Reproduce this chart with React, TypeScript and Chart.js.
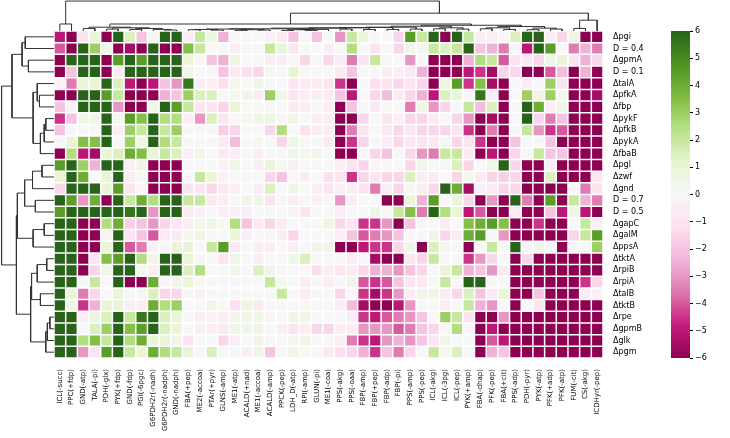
import React, { useEffect, useRef } from "react";
import { Chart, registerables } from "chart.js";
Chart.register(...registerables);

const FONT = "'DejaVu Sans', sans-serif";

const columnLabels = [
  "ICL(-succ)", "PPC(+fdp)", "GND(-atp)", "TALA(-pi)", "PDH(-glx)", "PYK(+fdp)", "GND(-fdp)", "PGI(-6pgc)",
  "G6PDH2r(-nadh)", "G6PDH2r(-nadph)", "GND(-nadph)", "FBA(+pep)", "ME2(-accoa)", "PTAr(+pyr)", "GLNS(-amp)",
  "ME1(-atp)", "ACALD(+nad)", "ME1(-accoa)", "ACALD(-amp)", "PPCK(-pep)", "LDH_D(-atp)", "RPI(-amp)", "GLUN(-pi)",
  "ME1(-coa)", "PPS(-akg)", "PPS(-oaa)", "FBP(-amp)", "FBP(+pep)", "FBP(-adp)", "FBP(-pi)", "PPS(-amp)", "PPS(-pep)",
  "ICL(-akg)", "ICL(-3pg)", "ICL(-pep)", "PYK(+amp)", "FBA(-dhap)", "PFK(-pep)", "FBA(+cit)", "PPS(-adp)",
  "PDH(-pyr)", "PYK(-atp)", "PFK(+adp)", "PFK(-atp)", "FUM(-cit)", "CS(-akg)", "ICDHyr(-pep)",
];

const rowLabels = [
  "Δpgi", "D = 0.4", "ΔgpmA", "D = 0.1", "ΔtalA", "ΔpfkA", "Δfbp", "ΔpykF", "ΔpfkB", "ΔpykA", "ΔfbaB",
  "Δpgl", "Δzwf", "Δgnd", "D = 0.7", "D = 0.5", "ΔgapC", "ΔgalM", "ΔppsA", "ΔtktA", "ΔrpiB", "ΔrpiA",
  "ΔtalB", "ΔtktB", "Δrpe", "ΔgpmB", "Δglk", "Δpgm",
];

const vPgi = [-5, -6, -1, 1, -6, 6, 1.5, -2, 0.3, 6, 6, -0.5, 2, 0.7, -2.5, 0, 0, 0, -0.3, -0.7, -2, 0, -2, 0, -3, 2, 1, 0, 0, -1.5, 4.5, 2, 6, -6, 6, 2, -0.5, -0.5, 0, 1.5, 6, 6, -0.5, -1.5, 0.5, -6, -6];
const vD04 = [-4, -6, 6, 3, 0.5, -6, -5.5, -6, 6, -6, -6, 3.5, 2, 0, 0, -0.5, 0, 0, 2, 1, -1, 0, 0, -0.5, 0, 2.5, 0, -1, 0, -1.5, 0.5, 0.2, 2, 1.5, 2, 6, -2, -2.5, -3.5, 0, -5, 6, 4.5, 0, -3.5, -2.5, -3.5];
const vGpmA = [-6, 6, 6, 6, -6, 4.5, 6, 4.5, 6, 6, 6, 1, 0, -2, -2.5, 0.7, 0, 0, -0.5, -0.5, 0, -1.5, 0, -1.5, -0.7, -3.5, -1, 2, 0, 0, -3, 0, -6, -6, -6, -2.5, 2.5, 2, -4, -1, -0.7, -1.5, 0.5, 1, -1, -2.5, -1.5];
const vD01 = [-6, -2, 6, 6, -6, -0.5, 6, 6, 6, 6, 6, 0.5, 0, 0, -2, -0.7, -1.2, -1.5, 0.2, 0, 1.2, 0, 0, 0, -0.7, -2, 0, 0, -0.5, -0.5, -0.7, -2.5, -6, -6, -6, -5, -4.5, -5.5, -1.5, -1.5, -6, -6, -4, -2.2, -6, -2.5, -6];
const vTalA = [-0.3, -3.5, 1, 1, 6, 1.5, -5, -6, -5, -2, -3, 5.5, -0.5, -0.5, -1.2, 0.3, 0, 0.5, 0, 0, -1, -0.7, -0.7, -1, -4.5, -6, 0, -1.2, -1, -1.5, -1, -1.5, -6, 0.7, 4.5, -4.5, 3.5, -5.5, -6, 0, -0.5, 0, 3, -1, -6, -6, -6];
const vPfkA = [-6, -6, 6, 6, 4.5, 2, -6, -6, -6, -2.5, -2, 3, 1.5, 1.5, 0, 0.2, 0.5, -0.5, 3, 0.5, -1, -0.5, -0.5, -0.7, -2, -5, 0, -1.5, -2.2, -0.7, -1.5, -2.5, -5, 1.5, 1, 0, 5.5, -0.5, -6, 0, 3, 0.5, 3, 0.3, -6, -6, -5.5];
const vFbp = [-2, -0.3, 6, 6, 6, -3, -6, -6, 0.5, 6, 4.5, 2, -1, -1, -1.5, 1, 0, 0, 0, 0, -0.7, -0.5, 0, -0.5, -6, -2, 0, -0.7, 0, 0, -3.5, 0.5, -3, -1.5, 0, 2, -2.2, 1.5, -6, 0, 6, 4, -0.5, 0.5, -6, -6, -6];
const vPykF = [-4.5, -2, 0.5, 0.5, 6, 0.3, 4.5, 3.5, 6, 2.5, 2.5, -0.5, -3, 1.5, -1, 0, 0.2, 0.5, 0.7, 0, 0.5, 0, -0.5, -0.5, -6, -6, -1.5, 0, -1, -0.5, -1.5, -1.5, -0.7, 0, -1.5, -3, -6, -5.5, -6, 0, 6, -1.5, -3.5, -2, -6, -6, -6];
const vPfkB = [-2, 0, 0, 0, 6, -0.5, 3, 2, 6, 2, 3, 0, 0, 0, -1.7, -1.5, 0, 0, -1.5, 2.5, 0, -1.2, -0.5, -0.5, -6, -3.5, -1, 0, -0.7, -1.5, -1, -1.5, -1.5, -1.5, -1, -4.5, -6, -3.5, -6, 0, 2, -3, -4.5, -4, -6, -6, -6];
const vPykA = [0, 1, 3.5, 3.5, 6, 0, 3, 0.5, 6, 2.5, 2, 0, 0, 0, -0.7, -2.2, 0, 0.3, 0, -1.5, 0.5, 0, 0, -0.7, -6, -4.5, -1.5, 0, -0.5, -1.5, -1, -1, -0.7, 0.3, -1.5, -1, -4.5, -6, -6, -2, 0, 0, -2, -6, -6, -6, -6];
const vFbaB = [-6, 2.5, -5, -5.5, 1, 1.5, 4, 3.5, 1, 2, 1.5, -0.5, 0.5, 0, -0.7, -0.5, 0, -0.5, 0, 0, 0.5, 0.3, 0.5, 0, -6, -6, 0, -1.5, -2, 0, -1.5, -3, -3.5, 2, 2, -0.7, -6, -5, -6, -1.5, 0, 2, -2, -2, -6, -6, -6];
const vPgl = [4.5, 6, 3, -2.5, 6, 6, -0.5, 0.5, -6, -6, -6, 0, 0, 0, -0.3, 0.5, 0, -0.5, 1, 0.3, -0.5, 0, 0, 0, -0.5, -1, -1.5, 0, 0, 0, -1.5, 0.5, 0, 0, 1.5, -1.5, 0, 0.5, 6, -1.5, -6, -6, -0.5, -6, -6, -6, -6];
const vZwf = [1, 6, 4, 0, 1, 6, -0.5, 0, -6, -6, -6, 0, 2, 1, -0.3, 0, 0, 0, -1.5, -2, 0, -0.5, 0, -1.2, -1, -4.5, -1.5, -1, -1.5, -1.5, 1.5, -0.5, -0.7, 0, -1.5, 0.3, -0.7, -1.5, -1.7, -1.5, -6, -6, 1.5, -6, -6, -6, -1];
const vGnd = [-1.5, 6, 6, 6, 1, 4.5, -1, 0, -6, -6, -6, -1, -1, -1.5, -0.7, -0.5, 0, -0.5, 1.5, 0, 0.5, 0, -0.5, -1, -0.5, -0.5, -1, -3.5, -0.5, -1.5, 0, -0.5, -1.5, 6, 4, -5.5, -0.5, -0.7, -1.5, -1.5, -6, -6, -6, -6, 0, -3.5, -1];
const vD07 = [6, 4.5, -3, 4, -6, 6, 2, 4, 2.5, 6, 6, 2, 2, -0.7, -0.5, 0, 0.5, 0.5, -1, 0, -0.5, 0, -0.3, 0, -3, -0.5, 0, 0, -6, -6, 1, -2.5, 4.5, 0, 1, -1.5, -6, -3, -6, 6, -3.5, -6, 4.5, -6, 2, -2.5, -3.5];
const vD05 = [4.5, 6, 6, 6, 6, 6, 5.5, 6, -3, 6, 6, -0.7, -0.3, 0, -0.5, -0.5, -0.5, 0, 0, 0, -0.3, -1, 0, 0, -0.5, 0, 0, 0.5, 0, 2, 3.5, -3.5, 6, 2.5, 1, -5, -4, -6, -6, -0.7, -6, -6, -2, -5, 0.5, -5, -6];
const vGapC = [6, 6, -6, -6, 2.5, 4, -1.7, -2, -3, -1.5, -1, -0.5, 0.5, 0.5, 0, 2.5, -2, -0.7, -1.5, -0.7, 0, 0, 0, 0.5, -1.5, -1, -4.5, -4.5, -3, -6, -2, 0, 0, -0.5, 0, 3.5, 4, 4.5, 3.5, -6, -6, -4.5, -6, -6, 0, 2, -0.5];
const vGalM = [6, 6, -6, -6, -0.3, 6, -1, -2, -4, -0.7, -0.7, 0.3, 0.5, 0, 0, 1, -0.5, 0, 0, -0.5, -1.5, 0, 0, 0, -0.5, -2, -4, -3.5, -3, -2, 0, 0, 0.5, -1.5, -0.5, 4, 4.5, 0, -3, -6, -6, -6, -6, -6, -1.5, 2, 4.5];
const vPpsA = [6, 6, -6, -6, 1, 6, -4, -3.5, -0.3, 0, 1, 1, 0, 2, 4.5, -0.7, 0, -0.5, -0.5, 0, -0.5, 0, 0.5, 0.5, -6, -6, -5, -4.5, -4.5, -1.5, 0.5, -6, 1.5, 0.3, 0, -6, 0, 2, 0, 6, -0.3, 0.5, 0, -6, 0, 0, 3];
const vTktA = [6, 6, -6, -1, 3.5, 4.5, 6, 2.5, 0.5, 6, 6, 1, 0.2, 0, -1, 0.5, 0, -0.5, 0, 0, 0.5, 1.5, 0, 0, 0, -0.5, 0, -5.5, -6, -6, -1, -1.5, 2, 0, 0, -4.5, -3, -1.5, 0, -6, -1.5, -6, -6, -6, -6, -6, -6];
const vRpiB = [6, 6, -6, -1.5, 0.5, 6, 6, 0.2, -0.5, 6, 6, 1.5, 2.5, 0, 0, 0.5, 0, 1.5, 0.5, 0, 0, 0, -1.2, -0.5, -1, -0.7, -1.5, -2.5, -2.5, -3, -2, -1.5, 0, 1, 2, -2.5, -2, -3, -0.7, -6, -6, -6, -6, -6, -6, -6, -6];
const vRpiA = [6, 6, 0, 2, 0, 6, -6, -6, 4, 0, 0.5, 1, 0, 0, 0, 0, 0, 0, 2, 0.3, 0, -0.5, 0, -0.5, 0, 0.5, -4, -4.5, -4, -2, -1, -0.7, 0, 2, 0, 6, 6, 0, 0, -6, -6, -6, -6, -6, -6, -4.5, -1.5];
const vTalB = [6, 1, -3.5, -1.5, 0, 1, 0, 0.3, 1.5, -1.5, -1.5, 0, -0.5, 0, 0, 0, 0, 0, 0, 2, 0, -0.7, 0, 0, -1.5, 0, -4.5, -5.5, -4.5, -3, -0.5, 0.5, 0.5, -0.5, -1.5, 1.5, -2, -0.7, 1, -6, -6, -2, -6, -6, -6, -0.7, -0.3];
const vTktB = [6, 0.5, -4.5, -2.5, 1, 1, -0.5, -0.5, 4, 2.5, 3, 0, 0, 0.5, 0, -1.2, 0.7, -0.7, 0, 0, 0, 0, 0, 0, -0.5, -2.2, -5.5, -6, -6, -5, -3, 0, 0, -0.5, 0, 2, -2.5, -3, 0, -6, 0, -1, -6, -6, -6, -6, -6];
const vRpe = [6, 6, -0.5, 0.7, 1.5, 6, 2, 5.5, 6, 1.5, 1, 0, -0.5, -0.3, -0.5, 0.5, 0.5, 0.5, 0, 0, 0.5, 0.5, 0, 0, 0, -0.5, -4.5, -5, -4, -3.5, -3, -2, 0, 3, 2, -1, -6, -6, -3, -6, -6, -6, -6, -6, -6, -6, -6];
const vGpmB = [6, 6, 0, 1.5, 3, 6, 3.5, 4.5, 6, 1.5, 1, 0, -0.5, -0.5, -0.7, 0.5, 0.5, 0.5, 0, -0.5, -1, -0.5, -1.5, -1.5, -0.5, -0.5, -3, -3, -3, -4, -3.5, -2, -1.5, 0, 2.5, 0, -6, -5, -6, -6, -6, -6, -6, -6, -6, -6, -6];
const vGlk = [6, 6, 2.5, 3.5, 2, 6, 2.5, 4, 1, 1, 0.5, -1, 0, 0, -1.5, -0.5, 0, 0.5, 0, 0, 0.3, 0.5, 0, 0, -0.5, -3.5, -4.5, -5, -3, -2.5, -3, -2, -1, 0.5, 0, 0, -6, -4, -5, -6, -6, -6, -6, -6, -6, -6, -6];
const vPgm = [6, 6, -3, -1, 4.5, 6, 2, 1, 4, 2.5, 2, 1, 0, 1.5, 0, 0, -0.5, 0.5, -2, 0, 0.5, 0, 0, -0.7, -1.2, -1.5, -2.5, -4.5, -2, -3.5, -1.5, 0, 2, 0.3, 1.5, 0, -6, -2.5, -2, -6, -6, -6, -6, -6, -6, -6, -6];

const matrix = [vPgi, vD04, vGpmA, vD01, vTalA, vPfkA, vFbp, vPykF, vPfkB, vPykA, vFbaB, vPgl, vZwf, vGnd,
  vD07, vD05, vGapC, vGalM, vPpsA, vTktA, vRpiB, vRpiA, vTalB, vTktB, vRpe, vGpmB, vGlk, vPgm];

// dendrogram merges: [childA, childB, height]; ids >= nLeaves refer to earlier merges
const rowLinks: [number, number, number][] = [
  [0, 1, 91], [2, 3, 81], [28, 29, 101], [5, 6, 46], [4, 31, 53], [7, 8, 26], [33, 9, 31], [34, 10, 43],
  [32, 35, 66], [30, 36, 133], [11, 12, 38], [38, 13, 68], [14, 15, 59], [39, 40, 93], [16, 17, 31],
  [42, 18, 66], [41, 43, 116], [19, 20, 23], [45, 21, 53], [22, 23, 43], [46, 47, 71], [24, 25, 13],
  [49, 26, 21], [50, 27, 26], [48, 51, 74], [44, 52, 119], [37, 53, 166],
];
const colLinks: [number, number, number][] = [
  [0, 1, 22], [2, 3, 8], [4, 5, 6], [6, 7, 5], [9, 10, 3], [8, 51, 5], [50, 52, 8], [49, 53, 10],
  [48, 54, 12], [11, 12, 4], [13, 14, 3], [56, 57, 5], [15, 16, 2], [17, 18, 3], [59, 60, 4], [58, 61, 6],
  [19, 20, 2], [21, 22, 2], [63, 64, 4], [65, 23, 5], [62, 66, 7], [24, 25, 6], [67, 68, 9], [26, 27, 5],
  [69, 70, 10], [28, 29, 5], [71, 72, 11], [30, 31, 6], [73, 74, 12], [32, 33, 7], [34, 35, 6], [76, 77, 10],
  [75, 78, 15], [36, 37, 7], [38, 39, 5], [80, 81, 10], [40, 41, 4], [42, 43, 6], [83, 84, 9], [82, 85, 14],
  [79, 86, 18], [55, 87, 22], [44, 45, 8], [89, 46, 34], [88, 90, 56], [47, 91, 94],
];

const PIYG = ["#8e0152", "#c51b7d", "#de77ae", "#f1b6da", "#fde0ef", "#f7f7f7", "#e6f5d0", "#b8e186", "#7fbc41", "#4d9221", "#276419"];
const VMIN = -6, VMAX = 6;

function hex(c: string) { return [1, 3, 5].map((i) => parseInt(c.slice(i, i + 2), 16)); }
function cmap(v: number) {
  const t = ((Math.max(VMIN, Math.min(VMAX, v)) - VMIN) / (VMAX - VMIN)) * 10;
  const i = Math.min(9, Math.floor(t));
  const f = t - i;
  const a = hex(PIYG[i]), b = hex(PIYG[i + 1]);
  const m = a.map((x, k) => Math.round(x + (b[k] - x) * f));
  return `rgb(${m[0]},${m[1]},${m[2]})`;
}

function dendroSegments(n: number, links: [number, number, number][]) {
  const pos: number[] = [], ht: number[] = [];
  for (let i = 0; i < n; i++) { pos[i] = i + 0.5; ht[i] = 0; }
  const segs: { p: number; h: number }[][] = [];
  links.forEach(([a, b, h], k) => {
    const id = n + k;
    pos[id] = (pos[a] + pos[b]) / 2; ht[id] = h;
    segs.push([{ p: pos[a], h: ht[a] }, { p: pos[a], h }, { p: pos[b], h }, { p: pos[b], h: ht[b] }]);
  });
  return segs;
}

// layout (pixels)
const W = 730, H = 438;
const HM_L = 54, HM_R = 603, HM_T = 31, HM_B = 358;
const CB_L = 671, CB_R = 690, CB_CANVAS = 660;

export default function App() {
  const heatRef = useRef<HTMLCanvasElement>(null);
  const topRef = useRef<HTMLCanvasElement>(null);
  const leftRef = useRef<HTMLCanvasElement>(null);
  const cbRef = useRef<HTMLCanvasElement>(null);

  useEffect(() => {
    Chart.defaults.font.family = FONT;
    Chart.defaults.color = "#000";
    const charts: Chart[] = [];

    charts.push(new Chart(heatRef.current!, {
      type: "bar",
      data: {
        labels: columnLabels,
        datasets: rowLabels.map((name, r) => ({
          label: name,
          data: columnLabels.map(() => [r, r + 1] as [number, number]),
          backgroundColor: matrix[r].map(cmap),
          borderColor: "#ffffff",
          borderWidth: 0.75,
          borderSkipped: false,
          inflateAmount: 0,
          grouped: false,
          barPercentage: 1,
          categoryPercentage: 1,
        })),
      },
      options: {
        animation: false, responsive: false, devicePixelRatio: 1,
        layout: { padding: { left: HM_L, top: HM_T, right: 0, bottom: 0 } },
        plugins: { legend: { display: false }, tooltip: { enabled: false } },
        scales: {
          x: {
            type: "category",
            grid: { display: false }, border: { display: false },
            ticks: { autoSkip: false, maxRotation: 90, minRotation: 90, padding: 3, font: { size: 7 }, color: "#000" },
            afterFit: (s: any) => { s.height = H - HM_B; },
          },
          y: {
            type: "linear", position: "right", min: 0, max: rowLabels.length, reverse: true,
            grid: { display: false }, border: { display: false },
            afterBuildTicks: (s: any) => { s.ticks = rowLabels.map((_, i) => ({ value: i + 0.5 })); },
            ticks: { autoSkip: false, padding: 2, font: { size: 8 }, color: "#000",
              callback: (v: any) => rowLabels[Math.round(Number(v) - 0.5)] },
            afterFit: (s: any) => { s.width = W - HM_R; },
          },
        },
      },
    }));

    const line = { borderColor: "#333333", borderWidth: 1, pointRadius: 0, showLine: true, clip: false as any, tension: 0 };
    const colSegs = dendroSegments(columnLabels.length, colLinks);
    const colMax = Math.max(...colLinks.map((l) => l[2]));
    charts.push(new Chart(topRef.current!, {
      type: "scatter",
      data: { datasets: colSegs.map((s) => ({ ...line, data: s.map((q) => ({ x: q.p, y: q.h })) })) },
      options: {
        animation: false, responsive: false, devicePixelRatio: 1,
        plugins: { legend: { display: false }, tooltip: { enabled: false } },
        scales: {
          x: { type: "linear", display: false, min: 0, max: columnLabels.length },
          y: { type: "linear", display: false, min: 0, max: colMax * 1.035 },
        },
      },
    }));

    const rowSegs = dendroSegments(rowLabels.length, rowLinks);
    const rowMax = Math.max(...rowLinks.map((l) => l[2]));
    charts.push(new Chart(leftRef.current!, {
      type: "scatter",
      data: { datasets: rowSegs.map((s) => ({ ...line, data: s.map((q) => ({ x: q.h, y: q.p })) })) },
      options: {
        animation: false, responsive: false, devicePixelRatio: 1,
        plugins: { legend: { display: false }, tooltip: { enabled: false } },
        scales: {
          x: { type: "linear", display: false, min: 0, max: rowMax * 1.03, reverse: true },
          y: { type: "linear", display: false, min: 0, max: rowLabels.length, reverse: true },
        },
      },
    }));

    charts.push(new Chart(cbRef.current!, {
      type: "bar",
      data: {
        labels: ["cb"],
        datasets: [{
          data: [[VMIN, VMAX] as [number, number]],
          backgroundColor: (ctx: any) => {
            const ch = ctx.chart;
            const ys = ch.scales.y;
            if (!ch.chartArea || !ys) return "#f7f7f7";
            const g = ch.ctx.createLinearGradient(0, ys.getPixelForValue(VMIN), 0, ys.getPixelForValue(VMAX));
            PIYG.forEach((c, i) => g.addColorStop(i / 10, c));
            return g;
          },
          borderWidth: 0, barPercentage: 1, categoryPercentage: 1, inflateAmount: 0,
        }],
      },
      options: {
        animation: false, responsive: false, devicePixelRatio: 1,
        layout: { padding: { left: CB_L - CB_CANVAS, top: HM_T, right: 0, bottom: H - HM_B } },
        plugins: { legend: { display: false }, tooltip: { enabled: false } },
        scales: {
          x: { display: false },
          y: {
            type: "linear", position: "right", min: VMIN, max: VMAX,
            grid: { drawOnChartArea: false, drawTicks: true, tickLength: 3, color: "#000" },
            border: { display: false },
            ticks: { stepSize: 1, padding: 2, font: { size: 8 }, color: "#000",
              callback: (v: any) => (Number(v) < 0 ? "\u2212" + Math.abs(Number(v)) : String(v)) },
            afterFit: (s: any) => { s.width = W - CB_R; },
          },
        },
      },
    }));

    return () => charts.forEach((c) => c.destroy());
  }, []);

  return (
    <div style={{ position: "fixed", left: 0, top: 0, width: W, height: H, background: "#fff", overflow: "hidden" }}>
      <canvas ref={heatRef} width={W} height={H} style={{ position: "absolute", left: 0, top: 0 }} />
      <canvas ref={topRef} width={HM_R - HM_L} height={HM_T} style={{ position: "absolute", left: HM_L, top: 0 }} />
      <canvas ref={leftRef} width={HM_L} height={HM_B - HM_T} style={{ position: "absolute", left: 0, top: HM_T }} />
      <canvas ref={cbRef} width={W - CB_CANVAS} height={H} style={{ position: "absolute", left: CB_CANVAS, top: 0 }} />
    </div>
  );
}
